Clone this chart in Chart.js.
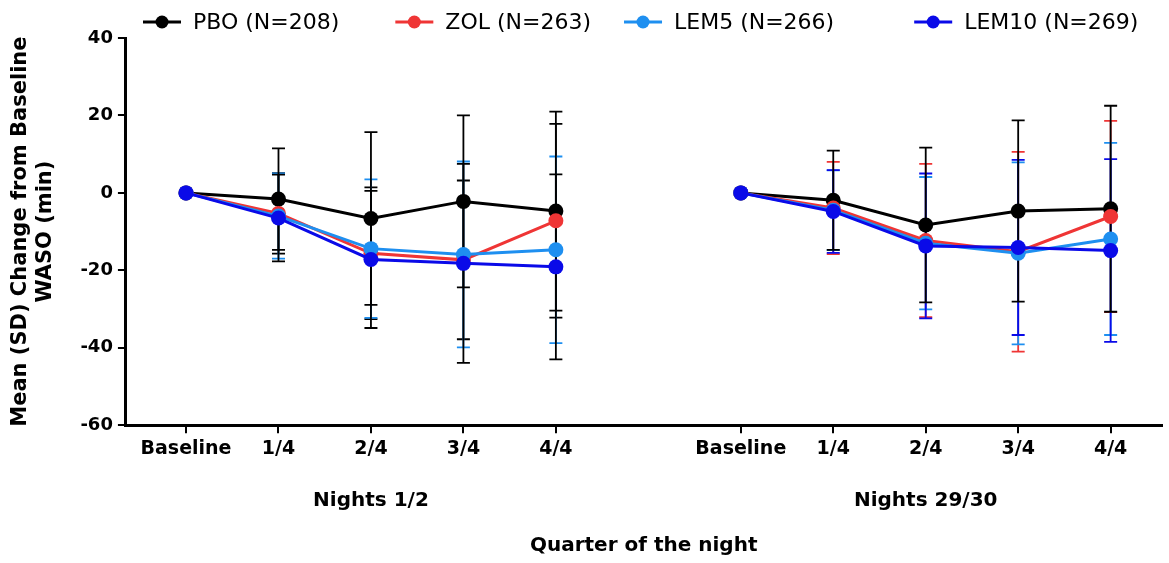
<!DOCTYPE html>
<html>
<head>
<meta charset="utf-8">
<script src="https://cdn.jsdelivr.net/npm/chart.js@4/dist/chart.umd.min.js"></script>
<style>
  html, body { margin: 0; padding: 0; background: #fff; }
</style>
</head>
<body>
<canvas id="wasoChart" width="1169" height="563"></canvas>
<script>
// categories: two blocks of quarters, slot 5 is the gap between them
const quarters = ['Baseline', '1/4', '2/4', '3/4', '4/4', '', 'Baseline', '1/4', '2/4', '3/4', '4/4'];
const nightGroups = ['Nights 1/2', 'Nights 29/30'];
const groupCenters = [2, 8];
const yTicks = [-60, -40, -20, 0, 20, 40];

// mean change from baseline (min) and SD
const pboMean   = [0, -1.6, -6.6, -2.2, -4.7, null, 0, -1.9, -8.3, -4.7, -4.1];
const pboSD     = [0, 13.1, 22.3, 22.2, 25.7, null, 0, 12.8, 20.0, 23.4, 26.6];
const zolMean   = [0, -5.3, -15.6, -17.3, -7.2, null, 0, -3.9, -12.3, -15.2, -6.1];
const zolSD     = [0, 10.4, 17.0, 20.5, 25.0, null, 0, 11.9, 19.8, 25.8, 24.7];
const lem5Mean  = [0, -6.0, -14.4, -15.9, -14.7, null, 0, -4.5, -13.0, -15.6, -11.9];
const lem5SD    = [0, 11.0, 17.9, 24.0, 24.1, null, 0, 10.3, 17.1, 23.5, 24.8];
const lem10Mean = [0, -6.5, -17.2, -18.2, -19.1, null, 0, -4.8, -13.7, -14.1, -14.9];
const lem10SD   = [0, 11.2, 17.7, 25.7, 23.9, null, 0, 10.7, 18.7, 22.6, 23.6];

const toPoints = arr => arr.map((v, i) => ({ x: i, y: v }));

function series(label, mean, sd, color, barColors, order) {
  return {
    label: label,
    data: toPoints(mean),
    sd: sd,
    barColors: barColors,   // whisker colour for first / second block
    borderColor: color,
    backgroundColor: color,
    pointBackgroundColor: color,
    pointBorderWidth: 0,
    pointRadius: 7.5,
    borderWidth: 3,
    tension: 0,
    order: order
  };
}

// SD whiskers, drawn under the lines; placebo last so its black bar sits on top
const barOrder = [1, 2, 3, 0];
const errorBars = {
  id: 'errorBars',
  beforeDatasetsDraw(chart) {
    const { ctx, scales: { x, y } } = chart;
    ctx.save();
    ctx.lineWidth = 1.8;
    barOrder.forEach(k => {
      const ds = chart.data.datasets[k];
      ds.data.forEach((p, i) => {
        const s = ds.sd[i];
        if (p.y == null || !s) return;
        const px = x.getPixelForValue(p.x);
        const top = y.getPixelForValue(p.y + s);
        const bot = y.getPixelForValue(p.y - s);
        ctx.strokeStyle = ds.barColors[p.x < 5 ? 0 : 1];
        ctx.beginPath();
        ctx.moveTo(px, top); ctx.lineTo(px, bot);
        ctx.moveTo(px - 6.5, top); ctx.lineTo(px + 6.5, top);
        ctx.moveTo(px - 6.5, bot); ctx.lineTo(px + 6.5, bot);
        ctx.stroke();
      });
    });
    ctx.restore();
  }
};

// legend row with line + dot markers
const legendGaps = [56, 33, 80];
const legendRow = {
  id: 'legendRow',
  afterDraw(chart) {
    const { ctx } = chart;
    ctx.save();
    ctx.font = '22px "DejaVu Sans"';
    ctx.textBaseline = 'middle';
    let x = 143;
    const y = 22;
    chart.data.datasets.forEach((ds, i) => {
      ctx.strokeStyle = ds.borderColor;
      ctx.lineWidth = 3;
      ctx.beginPath(); ctx.moveTo(x, y); ctx.lineTo(x + 38, y); ctx.stroke();
      ctx.fillStyle = ds.borderColor;
      ctx.beginPath(); ctx.arc(x + 19, y, 6.5, 0, 2 * Math.PI); ctx.fill();
      ctx.fillStyle = '#000';
      ctx.fillText(ds.label, x + 50, y + 1);
      x += 50 + ctx.measureText(ds.label).width + (legendGaps[i] || 0);
    });
    ctx.restore();
  }
};

// "Nights" labels under each block of quarters
const groupLabels = {
  id: 'groupLabels',
  afterDraw(chart) {
    const { ctx, chartArea, scales: { x } } = chart;
    ctx.save();
    ctx.font = 'bold 20px "DejaVu Sans"';
    ctx.fillStyle = '#000';
    ctx.textAlign = 'center';
    ctx.textBaseline = 'middle';
    nightGroups.forEach((g, k) => {
      ctx.fillText(g, x.getPixelForValue(groupCenters[k]), chartArea.bottom + 76);
    });
    ctx.restore();
  }
};

const tickFont = { family: 'DejaVu Sans', weight: 'bold', size: 19 };
const titleFont = { family: 'DejaVu Sans', weight: 'bold', size: 20, lineHeight: 1.25 };

const ctx = document.getElementById('wasoChart');

new Chart(ctx, {
  type: 'line',
  data: {
    datasets: [
      series('PBO (N=208)', pboMean, pboSD, '#000000', ['#000000', '#000000'], 4),
      series('ZOL (N=263)', zolMean, zolSD, '#ef3535', ['#000000', '#ef3535'], 3),
      series('LEM5 (N=266)', lem5Mean, lem5SD, '#1e8ff0', ['#1e8ff0', '#1e8ff0'], 2),
      series('LEM10 (N=269)', lem10Mean, lem10SD, '#0a0ae8', ['#000000', '#0a0ae8'], 1)
    ]
  },
  options: {
    responsive: false,
    animation: false,
    layout: { padding: { top: 38, left: 3, right: 0, bottom: 1 } },
    plugins: {
      legend: { display: false },
      tooltip: { enabled: false }
    },
    scales: {
      x: {
        type: 'linear',
        min: -0.65,
        max: 10.55,
        afterBuildTicks: s => { s.ticks = quarters.map((q, i) => ({ value: i })); },
        ticks: {
          autoSkip: false,
          maxRotation: 0,
          color: '#000',
          font: tickFont,
          padding: 4,
          callback: (v, i) => quarters[i]
        },
        grid: {
          drawOnChartArea: false,
          drawTicks: true,
          tickLength: 8,
          lineWidth: 2,
          color: c => quarters[c.index] ? '#000' : 'rgba(0,0,0,0)'
        },
        border: { color: '#000', width: 3 },
        title: {
          display: true,
          text: 'Quarter of the night',
          color: '#000',
          font: titleFont,
          padding: { top: 69, bottom: 4 }
        }
      },
      y: {
        min: -60,
        max: 40,
        afterBuildTicks: s => { s.ticks = yTicks.map(v => ({ value: v })); },
        ticks: { color: '#000', font: { family: 'DejaVu Sans', weight: 'bold', size: 18 }, padding: 5 },
        grid: {
          drawOnChartArea: false,
          drawTicks: true,
          tickLength: 8,
          lineWidth: 2,
          color: '#000'
        },
        border: { color: '#000', width: 3 },
        title: {
          display: true,
          text: ['Mean (SD) Change from Baseline', 'WASO (min)'],
          color: '#000',
          font: { family: 'DejaVu Sans', weight: 'bold', size: 21, lineHeight: 1.2 },
          padding: { top: 5, bottom: 17 }
        }
      }
    }
  },
  plugins: [errorBars, legendRow, groupLabels]
});
</script>
</body>
</html>
